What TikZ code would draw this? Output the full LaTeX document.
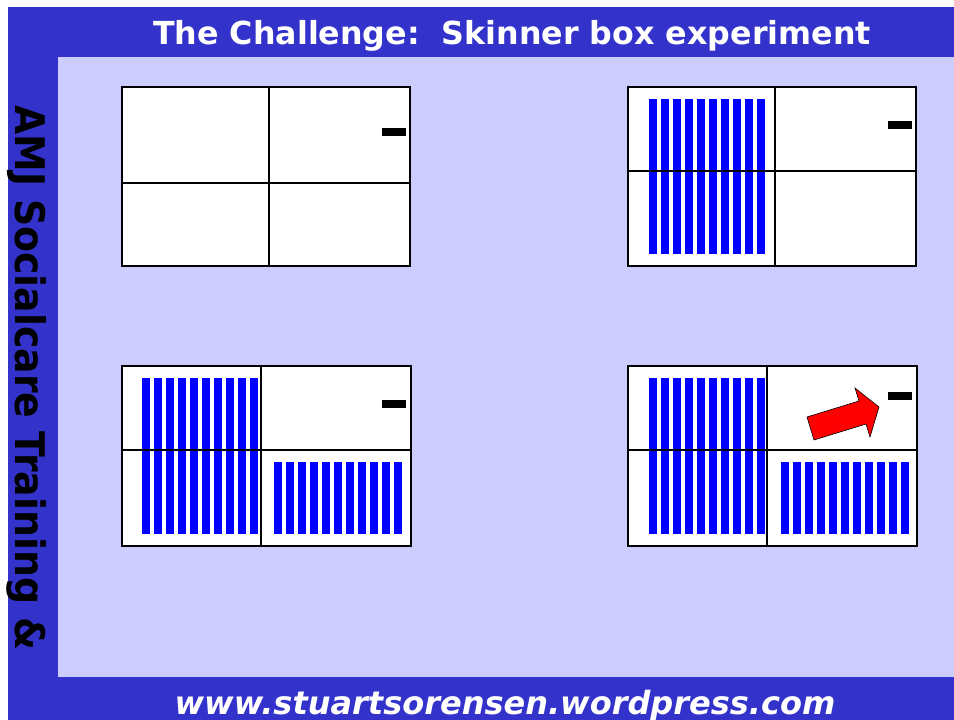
\documentclass[tikz,border=0pt]{standalone}
\usepackage{fontspec}
\setmainfont{DejaVu Sans}
\usetikzlibrary{positioning}
\definecolor{bandblue}{RGB}{51,51,204}
\definecolor{panelblue}{RGB}{204,204,255}
\definecolor{barblue}{RGB}{0,0,255}
\definecolor{arrowred}{RGB}{255,0,0}
\tikzset{
	titletext/.style={font=\fontsize{31.7}{36}\selectfont\bfseries, text=white, inner sep=0pt}
}
\tikzset{
	sitetext/.style={font=\fontsize{32}{36}\selectfont\bfseries\itshape, text=white, inner sep=0pt}
}
\tikzset{
	sidetext/.style={font=\fontsize{37.8}{42}\selectfont\bfseries, text=black, inner sep=0pt}
}

\begin{document}
\begin{tikzpicture}[x=1pt, y=-1pt]
			\tikzset{
				boxline/.style={draw=black, line width=2pt, fill=white},
				divline/.style={draw=black, line width=1.6pt},
				pellet/.style={fill=barblue},
				lever/.style={fill=black}
			}

			\useasboundingbox (0,0) rectangle (954,720);
			\fill[white] (0,0) rectangle (954,720);
			\fill[bandblue] (8,7) rectangle (954,720);
			\fill[panelblue] (58,57) rectangle (954,677);

			\node[titletext, anchor=base] (title) at (512,45) {The Challenge:\ \ Skinner box experiment};
			\node[sitetext, anchor=base] (site) at (505,714) {www.stuartsorensen.wordpress.com};
			\node[sidetext, anchor=base west, rotate=-90] (side) at (16,105)
				{\scalebox{1}[1.08]{AMJ Socialcare Training \&}};

			% box 1
			\draw[boxline] (122,87) rectangle (410,266);
			\draw[divline] (269,87) -- (269,266);
			\draw[divline] (122,183) -- (410,183);
			\fill[lever] (382,128) rectangle (406,136);

			% box 2
			\draw[boxline] (628,87) rectangle (916,266);
			\foreach \i in {0,...,9}
				\fill[pellet] ({649+12*\i},99) rectangle ++(8,155);
			\draw[divline] (775,87) -- (775,266);
			\draw[divline] (628,171) -- (916,171);
			\fill[lever] (888,121) rectangle (912,129);

			% box 3
			\draw[boxline] (122,366) rectangle (411,546);
			\foreach \i in {0,...,9}
				\fill[pellet] ({142+12*\i},378) rectangle ++(8,156);
			\foreach \i in {0,...,10}
				\fill[pellet] ({274+12*\i},462) rectangle ++(8,72);
			\draw[divline] (261,366) -- (261,546);
			\draw[divline] (122,450) -- (411,450);
			\fill[lever] (382,400) rectangle (406,408);

			% box 4
			\draw[boxline] (628,366) rectangle (917,546);
			\foreach \i in {0,...,9}
				\fill[pellet] ({649+12*\i},378) rectangle ++(8,156);
			\foreach \i in {0,...,10}
				\fill[pellet] ({781+12*\i},462) rectangle ++(8,72);
			\draw[divline] (767,366) -- (767,546);
			\draw[divline] (628,450) -- (917,450);
			\fill[lever] (888,392) rectangle (912,400);
			\draw[fill=arrowred, line width=0.6pt, line join=miter]
				(807,417) -- (859,401) -- (855,388) -- (879,407) -- (870,437) -- (866,424) -- (814,440) -- cycle;
		\end{tikzpicture}
\end{document}
